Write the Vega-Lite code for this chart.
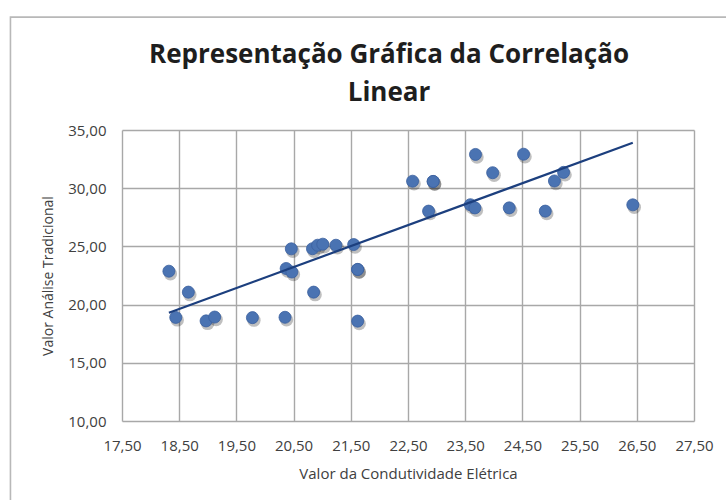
{
  "$schema": "https://vega.github.io/schema/vega-lite/v6.json",
  "autosize": {"type": "none"},
  "width": 572,
  "height": 291,
  "padding": {"left": 122, "top": 130, "right": 32, "bottom": 79},
  "background": "white",
  "config": {
    "view": {"stroke": null},
    "font": "Open Sans"
  },
  "title": {
    "text": ["Representação Gráfica da Correlação", "Linear"],
    "font": "Open Sans",
    "fontSize": 26,
    "fontWeight": "bold",
    "color": "#1e1e1e",
    "anchor": "middle",
    "frame": "group",
    "dx": -19,
    "offset": -92,
    "lineHeight": 38
  },
  "datasets": {
    "pts": [
      {"x": 18.32, "y": 22.87},
      {"x": 18.66, "y": 21.07},
      {"x": 18.44, "y": 18.9},
      {"x": 18.97, "y": 18.6},
      {"x": 19.12, "y": 18.93},
      {"x": 19.78, "y": 18.88},
      {"x": 20.35, "y": 18.91},
      {"x": 20.46, "y": 24.79},
      {"x": 20.37, "y": 23.1},
      {"x": 20.47, "y": 22.8},
      {"x": 20.85, "y": 21.07},
      {"x": 20.83, "y": 24.8},
      {"x": 20.92, "y": 25.1},
      {"x": 21.01, "y": 25.19},
      {"x": 21.24, "y": 25.1},
      {"x": 21.55, "y": 25.16},
      {"x": 21.62, "y": 23.02},
      {"x": 21.62, "y": 23.02},
      {"x": 21.62, "y": 18.58},
      {"x": 22.58, "y": 30.6},
      {"x": 22.94, "y": 30.58},
      {"x": 22.94, "y": 30.58},
      {"x": 22.86, "y": 28.03},
      {"x": 23.68, "y": 32.9},
      {"x": 23.98, "y": 31.33},
      {"x": 24.52, "y": 32.92},
      {"x": 23.59, "y": 28.58},
      {"x": 23.67, "y": 28.31},
      {"x": 24.27, "y": 28.31},
      {"x": 24.9, "y": 28.03},
      {"x": 25.06, "y": 30.62},
      {"x": 25.22, "y": 31.36},
      {"x": 26.43, "y": 28.57}
    ],
    "trend": [
      {"x": 18.32, "y": 19.3},
      {"x": 26.43, "y": 33.9}
    ],
    "frame": [
      {"x": 15.55, "y": 2},
      {"x": 15.55, "y": 44.7},
      {"x": 28.6, "y": 44.7}
    ]
  },
  "layer": [
    {
      "data": {"name": "frame"},
      "mark": {"type": "line", "color": "#b8b8b8", "strokeWidth": 1.6, "clip": false},
      "encoding": {
        "x": {"field": "x", "type": "quantitative"},
        "y": {"field": "y", "type": "quantitative"},
        "order": {"field": "x", "type": "quantitative"}
      }
    },
    {
      "data": {"name": "pts"},
      "mark": {"type": "point", "filled": true, "shape": "circle", "size": 180, "color": "#000000", "opacity": 0.25, "xOffset": 1.5, "yOffset": 2.5},
      "encoding": {
        "x": {"field": "x", "type": "quantitative"},
        "y": {"field": "y", "type": "quantitative"}
      }
    },
    {
      "data": {"name": "pts"},
      "mark": {"type": "point", "filled": true, "shape": "circle", "size": 145, "fill": "#4a73b2", "stroke": "#3a609e", "strokeWidth": 0.8, "opacity": 1},
      "encoding": {
        "x": {
          "field": "x", "type": "quantitative",
          "scale": {"domain": [17.5, 27.5], "nice": false, "zero": false},
          "axis": {
            "title": "Valor da Condutividade Elétrica",
            "values": [17.5, 18.5, 19.5, 20.5, 21.5, 22.5, 23.5, 24.5, 25.5, 26.5, 27.5],
            "labelExpr": "replace(format(datum.value, '.2f'), '.', ',')",
            "labelOverlap": false,
            "labelFlush": false,
            "grid": true, "gridColor": "#a8a8a8", "gridWidth": 1.4,
            "domain": false, "ticks": false,
            "labelFont": "Open Sans", "labelFontSize": 15, "labelColor": "#404040", "labelPadding": 17,
            "titleFont": "Open Sans", "titleFontSize": 15, "titleFontWeight": "normal", "titleColor": "#404040", "titlePadding": 13
          }
        },
        "y": {
          "field": "y", "type": "quantitative",
          "scale": {"domain": [10, 35], "nice": false, "zero": false},
          "axis": {
            "title": "Valor Análise Tradicional",
            "values": [10, 15, 20, 25, 30, 35],
            "labelExpr": "replace(format(datum.value, '.2f'), '.', ',')",
            "labelOverlap": false,
            "labelFlush": false,
            "grid": true, "gridColor": "#a8a8a8", "gridWidth": 1.4,
            "domain": false, "ticks": false,
            "labelFont": "Open Sans", "labelFontSize": 15, "labelColor": "#404040", "labelPadding": 16,
            "titleFont": "Open Sans", "titleFontSize": 14, "titleFontWeight": "normal", "titleColor": "#404040", "titlePadding": 12
          }
        }
      }
    },
    {
      "data": {"name": "trend"},
      "mark": {"type": "line", "color": "#1c3f7e", "strokeWidth": 2.2},
      "encoding": {
        "x": {"field": "x", "type": "quantitative"},
        "y": {"field": "y", "type": "quantitative"}
      }
    }
  ]
}
